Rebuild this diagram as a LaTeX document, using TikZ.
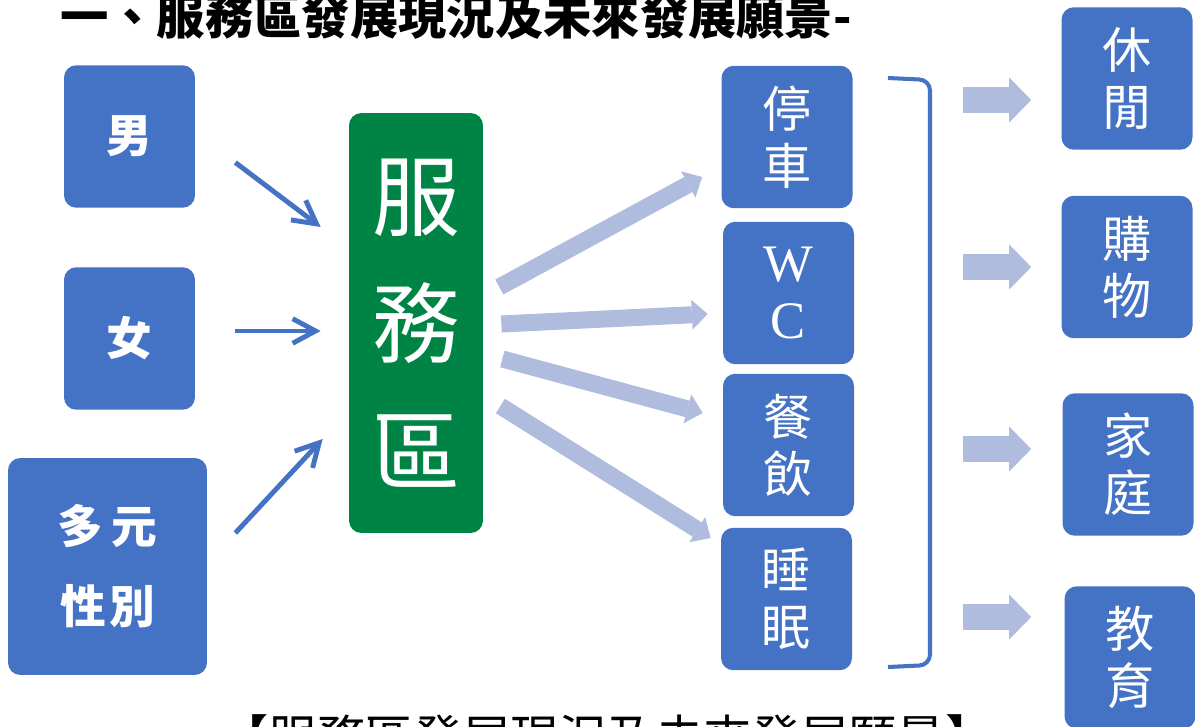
\documentclass[tikz,border=0pt]{standalone}
\usepackage{fontspec}
\setmainfont{Noto Sans CJK TC}
\newfontfamily\latin{Liberation Serif}
\usetikzlibrary{arrows.meta, calc}

\definecolor{boxblue}{RGB}{68,114,196}
\definecolor{hubgreen}{RGB}{0,132,70}
\definecolor{paleblue}{RGB}{175,188,222}

\begin{document}
\begin{tikzpicture}[x = 0.02cm, y = -0.02cm,
	box/.style = {fill = boxblue, text = white, rounded corners = 7pt, inner sep = 0pt, align = center,
		minimum width = 2.62cm, minimum height = 2.85cm},
	item/.style = {box, font = \fontsize{28}{32.4}\selectfont},
	side/.style = {box, font = \bfseries\fontsize{26}{45.5}\selectfont},
	feed/.style = {draw = boxblue, line width = 2.8pt, -{Straight Barb[length = 13pt, width = 14pt]}},
	flow/.style = {draw = paleblue, line width = 9.7pt, -{Triangle[length = 9pt, width = 17pt, line width = 0pt]}},
	push/.style = {draw = paleblue, line width = 14.8pt, -{Triangle[length = 12.5pt, width = 25.6pt, line width = 0pt]}}]

	% Page

	\useasboundingbox (0, 0) rectangle (1195, 726);
	\clip (0, 0) rectangle (1195, 726);

	% Headings (cut by the page edge)

	\node [anchor = west, font = \bfseries\fontsize{27.5}{30}\selectfont] (title) at (54, 17) {一、服務區發展現況及未來發展願景-};
	\node [font = \fontsize{27.5}{30}\selectfont] (caption) at (607, 737) {【服務區發展現況及未來發展願景】};

	% Left column

	\node [side] (male) at (129.5, 136.5) {男};
	\node [side] (female) at (129.5, 338.5) {女};
	\node [side, minimum width = 3.98cm, minimum height = 4.34cm] (multi) at (107.5, 566.5) {多\hspace{5pt}元\\性\hspace{2pt}別};

	% Service area

	\node [box, fill = hubgreen, minimum width = 2.68cm, minimum height = 8.4cm,
		font = \fontsize{50}{72.5}\selectfont] (hub) at (416, 323) {服\\務\\區};

	\draw [feed] ($(male.east) + (40, 26)$) -- ($(hub.west) + (-28, -96)$);
	\draw [feed] ($(female.east) + (40, -7.5)$) -- ($(hub.west) + (-28, 8)$);
	\draw [feed] ($(multi.east) + (28, -33.5)$) -- ($(hub.west) + (-26, 116)$);

	% Facilities

	\node [item] (park) at (787, 137) {停\\車};
	\node [item] (wc) at (788.5, 293) {{\latin\fontsize{30}{32.4}\selectfont W}\\{\latin\fontsize{30}{32.4}\selectfont C}};
	\node [item] (meal) at (788.5, 445) {餐\\飲};
	\node [item] (sleep) at (786.5, 599) {睡\\眠};

	\draw [flow] ($(hub.east) + (16, -36)$) -- ($(park.west) + (-19, 40)$);
	\draw [flow] ($(hub.east) + (18, 1)$) -- ($(wc.west) + (-15, 21)$);
	\draw [flow] ($(hub.east) + (19, 36)$) -- ($(meal.west) + (-20, -32)$);
	\draw [flow] ($(hub.east) + (17, 83)$) -- ($(sleep.west) + (-10, -61)$);

	% Bracket round the facilities

	\draw [boxblue, line width = 2.3pt, rounded corners = 6pt] (888, 78) -- (930, 80) -- (930, 665) -- (888, 667);

	% Future vision

	\node [item] (leisure) at (1127, 78.5) {休\\閒};
	\node [item] (shop) at (1127, 267) {購\\物};
	\node [item] (family) at (1128, 464.5) {家\\庭};
	\node [item] (edu) at (1130, 657.5) {教\\育};

	\draw [push] ($(leisure.west) + (-98, 21.5)$) -- ($(leisure.west) + (-30, 21.5)$);
	\draw [push] ($(shop.west) + (-98, 0)$) -- ($(shop.west) + (-30, 0)$);
	\draw [push] ($(family.west) + (-99, -15.5)$) -- ($(family.west) + (-31, -15.5)$);
	\draw [push] ($(edu.west) + (-101, -40.5)$) -- ($(edu.west) + (-33, -40.5)$);

\end{tikzpicture}
\end{document}
